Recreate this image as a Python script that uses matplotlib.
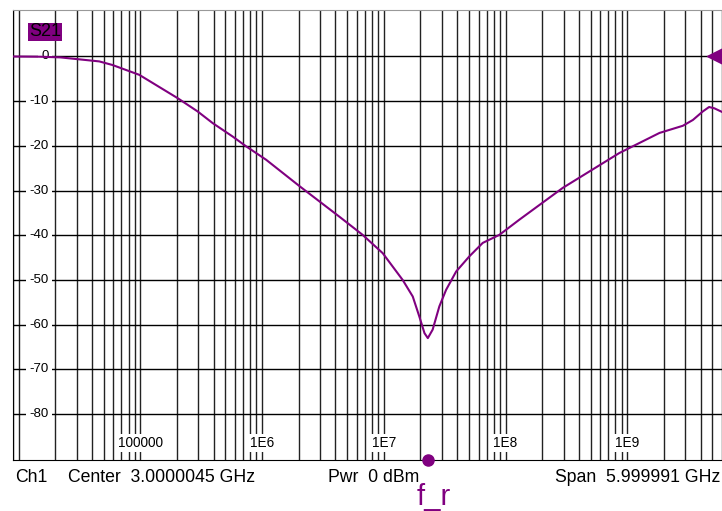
import numpy as np
import matplotlib.pyplot as plt
from matplotlib.ticker import LogLocator, NullFormatter
import matplotlib.transforms as mtransforms

plt.rcParams['font.family'] = ['Liberation Sans', 'DejaVu Sans']

# S21 transmission sweep, 9 kHz .. 6 GHz
freq_hz = [9e3, 1.5e4, 2.2e4, 4.6e4, 5.9e4, 9.8e4, 2.02e5, 2.96e5, 3.93e5,
           5.73e5, 7.4e5, 1.08e6, 2.03e6, 4.3e6, 6.7e6, 9.8e6, 1.43e7,
           1.73e7, 1.96e7, 2.16e7, 2.30e7, 2.52e7, 2.86e7, 3.25e7, 3.93e7,
           5.05e7, 6.5e7, 8.9e7, 1.3e8, 2.95e8, 8.6e8, 1.84e9, 2.86e9,
           3.46e9, 4.17e9, 4.7e9, 5.2e9, 6.0e9]
s21_db = [0.0, -0.05, -0.2, -1.1, -1.9, -4.1, -9.3, -12.3, -14.9,
          -17.9, -20.1, -23.1, -29.0, -35.8, -39.9, -44.0, -50.0,
          -53.7, -58.2, -61.9, -63.0, -61.1, -55.9, -52.2, -48.1,
          -44.7, -41.7, -39.9, -36.5, -29.4, -21.6, -17.1, -15.5,
          -14.2, -12.3, -11.3, -11.6, -12.4]

f_start = 9e3
f_stop = 6e9
f_r = 2.3e7

y_ticks = [0, -10, -20, -30, -40, -50, -60, -70, -80]
decades = [1e5, 1e6, 1e7, 1e8, 1e9]
decade_labels = ['100000', '1E6', '1E7', '1E8', '1E9']

status = [('Ch1', 15), ('Center  3.0000045 GHz', 68), ('Pwr  0 dBm', 328)]
span_text = 'Span  5.999991 GHz'

trace_color = '#800080'
W, H = 722, 511

fig = plt.figure(figsize=(W / 100, H / 100), dpi=100)
ax = fig.add_axes([13 / W, (H - 459.7) / H, 709 / W, 449.7 / H])

ax.set_xscale('log')
ax.set_xlim(f_start, f_stop)
ax.set_ylim(-90.2, 10.4)

# grid: every 10 dB, every 1..9 x decade
ax.xaxis.set_major_locator(LogLocator(base=10, numticks=20))
ax.xaxis.set_minor_locator(LogLocator(base=10, subs=np.arange(2, 10), numticks=50))
ax.xaxis.set_minor_formatter(NullFormatter())
ax.set_yticks(y_ticks)
ax.grid(True, which='both', axis='x', color='#222222', lw=1.0)
ax.grid(True, which='major', axis='y', color='black', lw=1.0)
ax.tick_params(which='both', length=0, labelbottom=False, labelleft=False)
ax.set_axisbelow(True)

ax.spines['right'].set_visible(False)
ax.spines['top'].set_color('#999999')
ax.spines['left'].set_color('black')
ax.spines['bottom'].set_color('black')

# y labels sit inside the grid on white boxes
for v in y_ticks:
    ax.text(36 / 709, v, str(v), transform=ax.get_yaxis_transform(),
            ha='right', va='center', fontsize=9.5, zorder=2,
            bbox=dict(boxstyle='square,pad=0.25', fc='white', ec='none'))

# decade labels near the bottom edge
for f, lab in zip(decades, decade_labels):
    ax.text(f, 0.037, lab, transform=ax.get_xaxis_transform(),
            ha='center', va='center', fontsize=9.8, zorder=2,
            bbox=dict(boxstyle='square,pad=0.15', fc='white', ec='none'))

ax.plot(freq_hz, s21_db, color=trace_color, lw=1.5, zorder=3)

# trace tag
ax.text(16 / 709, 1 - 22 / 449.7, 'S21', transform=ax.transAxes,
        ha='left', va='center', fontsize=13, color='black', zorder=4,
        bbox=dict(boxstyle='square,pad=0.05', fc=trace_color, ec='none'))

# reference level arrow on the right edge
ref_tr = mtransforms.blended_transform_factory(ax.transAxes, ax.transData)
ax.plot([(715 - 13) / 709], [0], marker='<', ms=11, color=trace_color,
        transform=ref_tr, clip_on=False, zorder=5)

# resonance marker on the frequency axis
ax.plot([f_r], [0], marker='o', ms=8, color=trace_color,
        transform=ax.get_xaxis_transform(), clip_on=False, zorder=5)
ax.annotate('f_r', xy=(f_r, 0), xycoords=ax.get_xaxis_transform(),
            xytext=(4.4, -32.6), textcoords='offset points',
            ha='center', va='baseline', fontsize=21, color=trace_color,
            annotation_clip=False)

# status line
for txt, x in status:
    fig.text(x / W, 1 - 478 / H, txt, ha='left', va='center', fontsize=12.7)
fig.text(720 / W, 1 - 478 / H, span_text, ha='right', va='center', fontsize=12.7)

fig.savefig('out.png', dpi=100, facecolor='white')
